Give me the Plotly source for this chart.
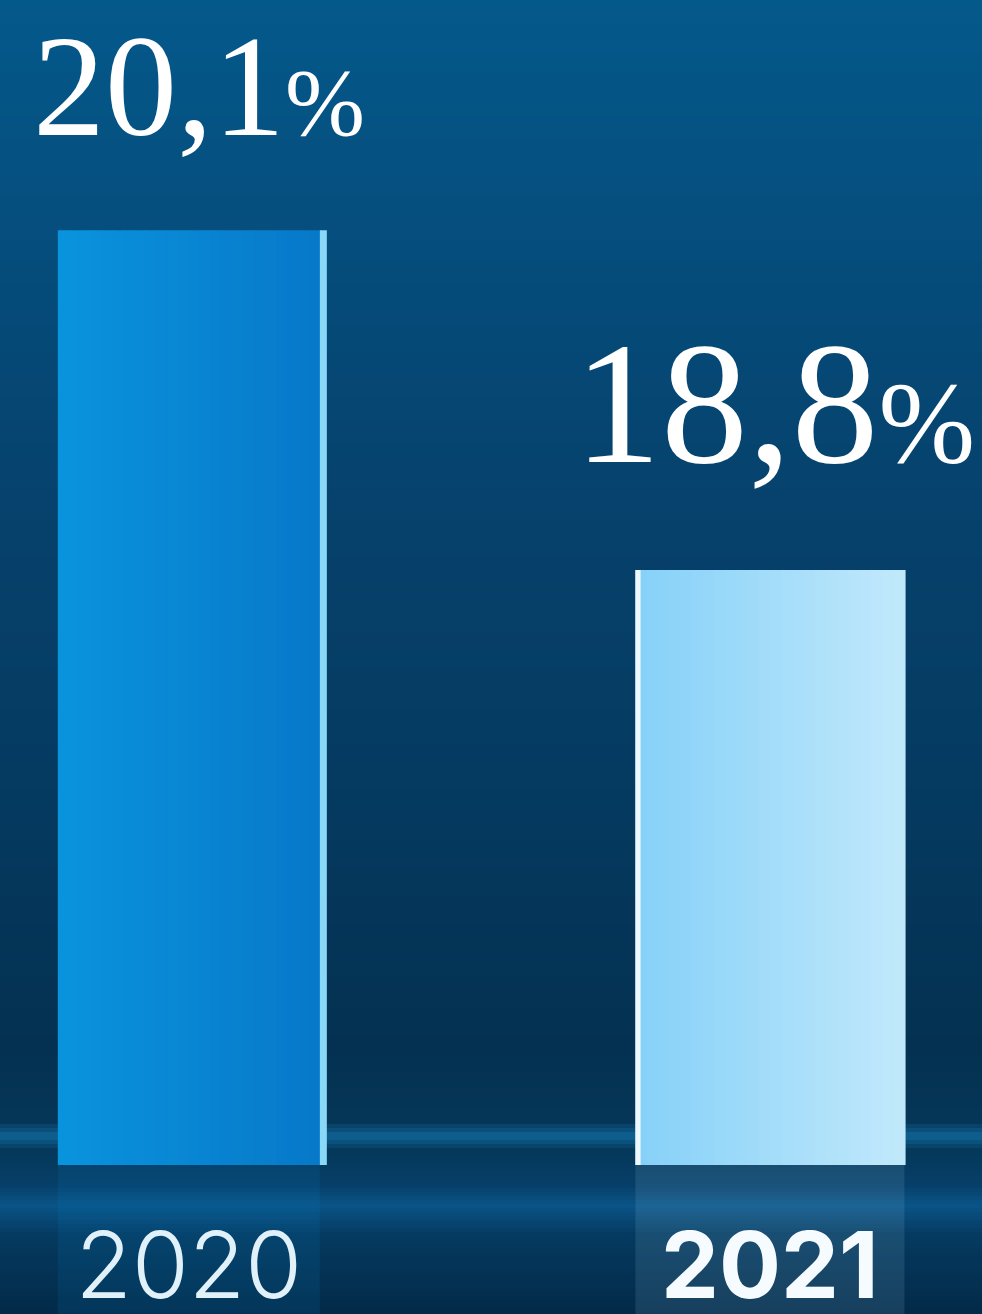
import plotly.graph_objects as go

# данные
years = ["2020", "2021"]
shares = [20.1, 18.8]
year_text = ["2020", "<b>2021</b>"]

W, H = 982, 1314
BASE_PX = 1165          # линия основания столбцов
PX_PER_UNIT = 261.5     # вертикальный масштаб
Y0 = 16.525             # нижняя граница оси
Y1 = Y0 + BASE_PX / PX_PER_UNIT
DOM0 = (H - BASE_PX) / H

bar_colors = ["#0a8ad8", "#a9dcf8"]
edge_colors = ["#8ad8f8", "#eef8fe"]
bar_width = [0.451, 0.463]
edge_offset = [0.2255, -0.2315]
edge_width = [0.012, 0.009]

# цвета левого и правого края столбцов
left_rgb = [(10, 147, 221), (134, 209, 248)]
right_rgb = [(7, 121, 201), (192, 232, 251)]

# фон: вертикальный градиент
stops = [
    (0, (4, 89, 139)), (250, (5, 77, 124)), (500, (6, 66, 109)),
    (800, (5, 58, 96)), (1050, (4, 49, 81)), (1122, (5, 54, 88)),
    (1136, (16, 100, 150)), (1150, (5, 56, 90)), (1185, (6, 63, 104)),
    (1205, (10, 84, 136)), (1235, (5, 58, 96)), (1314, (3, 42, 72)),
]


def mix(a, b, t):
    c = [round(x + (y - x) * t) for x, y in zip(a, b)]
    return f"rgb({c[0]},{c[1]},{c[2]})"


def color_at(y):
    for (ya, ca), (yb, cb) in zip(stops[:-1], stops[1:]):
        if ya <= y <= yb:
            return mix(ca, cb, (y - ya) / (yb - ya) if yb > ya else 0)
    return "rgb(3,42,72)"


shapes = []
step = 4
for y in range(0, H, step):
    shapes.append(dict(
        type="rect", xref="paper", yref="paper", layer="below",
        x0=0, x1=1, y0=1 - (y + step) / H, y1=1 - y / H,
        fillcolor=color_at(y + step / 2), line=dict(width=0),
    ))

fig = go.Figure()

# отражения под столбцами
fig.add_trace(go.Bar(
    x=years, y=shares, yaxis="y2", width=bar_width,
    marker=dict(color=bar_colors, line=dict(width=0)), opacity=0.12,
    hoverinfo="skip",
))

# столбцы, узкими полосами для градиента
n = 24
for k in range(n):
    t = k / (n - 1)
    fig.add_trace(go.Bar(
        x=years, y=shares,
        width=[w / n + 0.002 for w in bar_width],
        offset=[-w / 2 + k * w / n for w in bar_width],
        marker=dict(color=[mix(l, r, t) for l, r in zip(left_rgb, right_rgb)],
                    line=dict(width=0)),
        hoverinfo="skip",
    ))

# светлые грани
fig.add_trace(go.Bar(
    x=years, y=shares, width=edge_width, offset=edge_offset,
    marker=dict(color=edge_colors, line=dict(width=0)),
    hoverinfo="skip",
))

# подписи значений
label_sizes = [(144, 96), (174, 116)]
label_shift = [(10, 62), (5, 68)]
for i, (v, (big, small), (dx, dy)) in enumerate(zip(shares, label_sizes, label_shift)):
    num = f"{v:.1f}".replace(".", ",")
    fig.add_annotation(
        x=i, y=v, xref="x", yref="y", xanchor="center", yanchor="bottom",
        xshift=dx, yshift=dy, showarrow=False,
        text=f"{num}<span style='font-size:{small}px'>%</span>",
        font=dict(family="Liberation Serif", size=big, color="white"),
    )

fig.update_layout(
    width=W, height=H, margin=dict(l=0, r=0, t=0, b=0),
    paper_bgcolor="#053a60", plot_bgcolor="rgba(0,0,0,0)",
    barmode="overlay", showlegend=False, shapes=shapes,
    xaxis=dict(
        type="category", range=[-0.325, 1.365], anchor="y",
        showgrid=False, zeroline=False, showline=False, automargin=False,
        tickvals=years, ticktext=year_text, ticks="",
        ticklabelstandoff=40,
        tickfont=dict(family="Inter", size=92, color="white", weight=300),
    ),
    yaxis=dict(domain=[DOM0, 1], range=[Y0, Y1], visible=False,
               automargin=False),
    yaxis2=dict(domain=[0, DOM0], range=[Y0 - 0.9, Y0], visible=False,
                autorange=False, automargin=False),
)

fig.write_html(
    "out.html",
    config={"displayModeBar": False},
    post_script="document.body.style.margin='0';document.body.style.overflow='hidden';",
)
